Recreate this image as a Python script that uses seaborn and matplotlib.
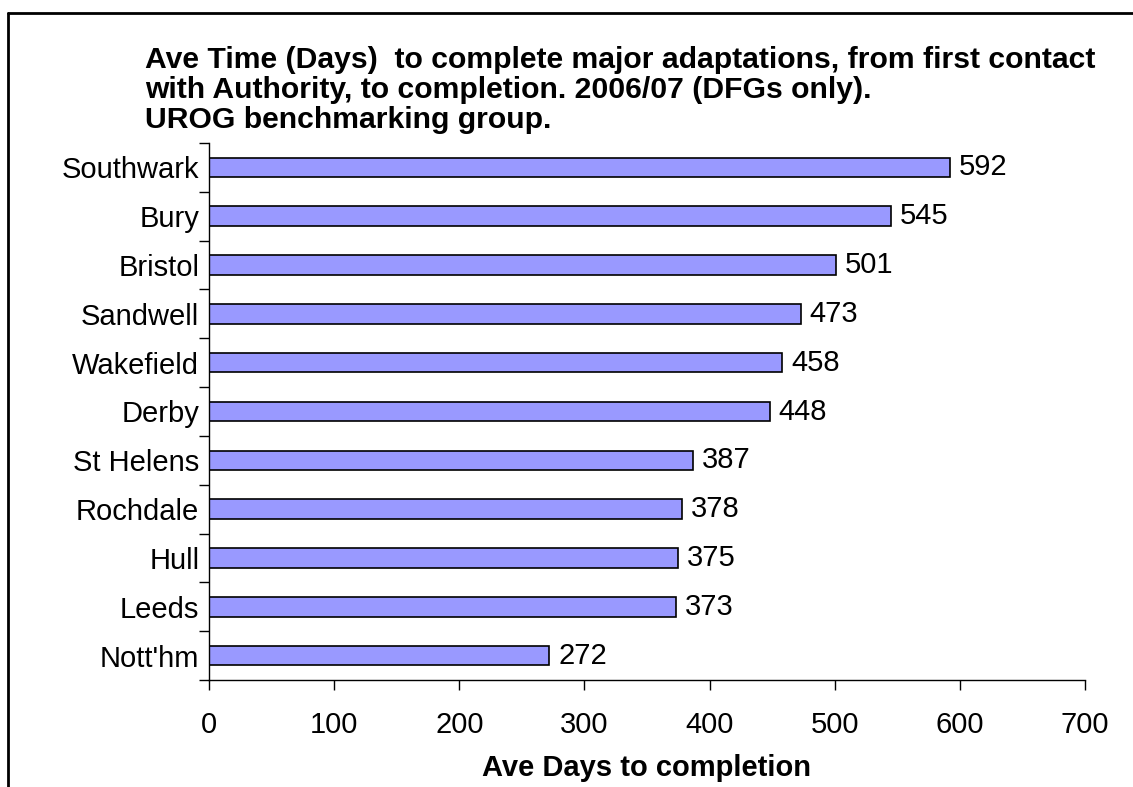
import matplotlib
matplotlib.use("Agg")
import matplotlib.pyplot as plt
import seaborn as sns
import pandas as pd
from matplotlib.lines import Line2D

categories = ["Southwark", "Bury", "Bristol", "Sandwell", "Wakefield", "Derby",
              "St Helens", "Rochdale", "Hull", "Leeds", "Nott'hm"]
values = [592, 545, 501, 473, 458, 448, 387, 378, 375, 373, 272]
x_ticks = [0, 100, 200, 300, 400, 500, 600, 700]
title_text = ("Ave Time (Days)  to complete major adaptations, from first contact\n"
              "with Authority, to completion. 2006/07 (DFGs only).\n"
              "UROG benchmarking group.")
x_label = "Ave Days to completion"

sns.set_theme(style="white")
plt.rcParams["font.family"] = ["Liberation Sans", "DejaVu Sans"]
plt.rcParams["text.color"] = "black"
plt.rcParams["axes.labelcolor"] = "black"
plt.rcParams["xtick.color"] = "black"
plt.rcParams["ytick.color"] = "black"

FS = 21

df = pd.DataFrame({"Authority": categories, "Days": values})

fig = plt.figure(figsize=(11.33, 7.87), dpi=100)
ax = fig.add_axes([209/1133, 1-680/787, (1085-209)/1133, (680-143)/787])

sns.barplot(data=df, x="Days", y="Authority", orient="h", color="#9999FF",
            edgecolor="black", linewidth=1.2, width=0.4, saturation=1, ax=ax)

ax.set_xlim(0, 700)
ax.set_ylim(len(categories)-0.5, -0.5)
ax.set_xticks(x_ticks)
ax.set_xticklabels([str(t) for t in x_ticks], fontsize=FS)
ax.set_yticks(range(len(categories)))
ax.set_yticklabels(categories, fontsize=FS)
ax.set_yticks([i - 0.5 for i in range(len(categories)+1)], minor=True)
ax.tick_params(axis="y", which="major", left=True, length=0, pad=7, labelcolor="black")
ax.tick_params(axis="y", which="minor", left=True, length=7, width=1, color="black", direction="out")
ax.tick_params(axis="x", which="major", bottom=True, length=7, width=1, color="black",
               direction="out", pad=15, labelcolor="black")

for s in ["top", "right"]:
    ax.spines[s].set_visible(False)
for s in ["left", "bottom"]:
    ax.spines[s].set_color("black")
    ax.spines[s].set_linewidth(1)

ax.set_xlabel(x_label, fontsize=FS, fontweight="bold", labelpad=11, color="black")
ax.set_ylabel("")

for i, v in enumerate(values):
    ax.text(v + 7, i, str(v), va="center", ha="left", fontsize=FS, color="black")

fig.text(145/1133, 1-46/787, title_text, fontsize=21.7, fontweight="bold",
         ha="left", va="top", linespacing=1.08, color="black")

fig.add_artist(Line2D([8/1133, 1.0], [1-13/787, 1-13/787], transform=fig.transFigure,
                      color="black", linewidth=2))
fig.add_artist(Line2D([8/1133, 8/1133], [1-13/787, 0.0], transform=fig.transFigure,
                      color="black", linewidth=2))

fig.savefig("out.png", dpi=100)
